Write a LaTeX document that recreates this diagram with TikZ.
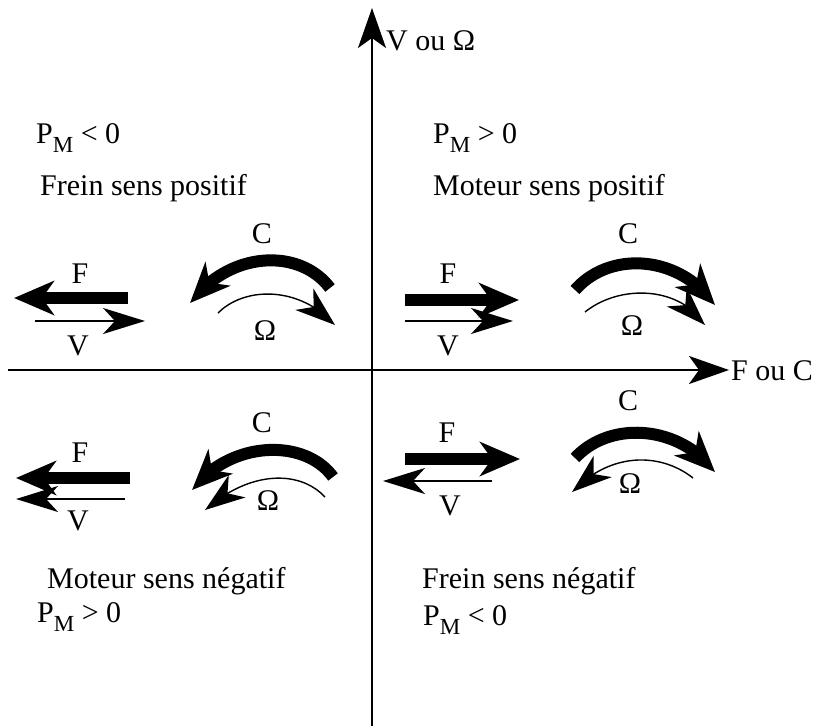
\documentclass[tikz,border=0pt]{standalone}
\usepackage{fontspec}
\setmainfont{Liberation Serif}
\usetikzlibrary{arrows.meta,bending}
\newcommand{\PMsub}{P\raisebox{-0.3em}{\fontsize{23}{23}\selectfont M}}
\begin{document}
\begin{tikzpicture}[x=1pt,y=-1pt,
  thickarr/.style={line width=12pt,-{Stealth[length=40pt,width=34pt,inset=12pt,flex]}},
  thinarr/.style={line width=2pt,-{Stealth[length=42pt,width=26pt,inset=12pt,flex]}},
  omarr/.style={line width=1.4pt,-{Stealth[length=40pt,width=28pt,inset=12pt,flex]}},
  axisarr/.style={line width=2pt,-{Stealth[length=40pt,width=28pt,inset=10pt]}},
  lbl/.style={font=\fontsize{30}{36}\selectfont,inner sep=0pt,anchor=base},
  txt/.style={lbl,anchor=base west}]
\useasboundingbox (0,0) rectangle (819,726);
% axes
\coordinate (vb) at (372,726);
\coordinate (vt) at (372,8);
\coordinate (hl) at (8,370);
\coordinate (hr) at (729,370);
\draw[axisarr] (vb) -- (vt);
\draw[axisarr] (hl) -- (hr);
\node[txt] (vlab) at (386,50) {V ou Ω};
\node[txt] (hlab) at (731,380) {F ou C};
% quadrant texts
\node[txt] (pm1) at (36,143) {\PMsub{} < 0};
\node[txt] (q2) at (40,195) {Frein sens positif};
\node[txt] (pm2) at (433,143) {\PMsub{} > 0};
\node[txt] (q1) at (433,195) {Moteur sens positif};
\node[txt] (q3) at (47,588) {Moteur sens négatif};
\node[txt] (pm3) at (37,622) {\PMsub{} > 0};
\node[txt] (q4) at (422,588) {Frein sens négatif};
\node[txt] (pm4) at (423,625) {\PMsub{} < 0};
% upper left
\node[lbl] (f2) at (80,283) {F};
\node[lbl] (v2) at (78,355) {V};
\node[lbl] (c2) at (262,243) {C};
\node[lbl] (o2) at (265,340) {Ω};
\draw[thickarr] (128,298) -- (14,298);
\draw[thinarr] (35,321) -- (145,321);
\draw[thickarr] (330,288) .. controls (300,248) and (230,250) .. (190,303);
\draw[omarr] (218,313) .. controls (245,286) and (300,286) .. (335,325);
% upper right
\node[lbl] (f1) at (448,283) {F};
\node[lbl] (v1) at (448,355) {V};
\node[lbl] (c1) at (628,243) {C};
\node[lbl] (o1) at (632,335) {Ω};
\draw[thickarr] (405,300) -- (519,300);
\draw[thinarr] (405,321) -- (513,321);
\draw[thickarr] (575,290) .. controls (610,250) and (680,255) .. (715,305);
\draw[omarr] (585,312) .. controls (620,284) and (680,286) .. (705,325);
% lower left
\node[lbl] (f3) at (80,462) {F};
\node[lbl] (v3) at (78,530) {V};
\node[lbl] (c3) at (262,432) {C};
\node[lbl] (o3) at (268,510) {Ω};
\draw[thickarr] (130,478) -- (16,478);
\draw[thinarr] (125,499) -- (16,499);
\draw[thickarr] (333,477) .. controls (305,438) and (230,440) .. (192,490);
\draw[omarr] (325,497) .. controls (300,470) and (250,470) .. (205,510);
% lower right
\node[lbl] (f4) at (447,442) {F};
\node[lbl] (v4) at (450,515) {V};
\node[lbl] (c4) at (628,410) {C};
\node[lbl] (o4) at (630,493) {Ω};
\draw[thickarr] (405,459) -- (520,459);
\draw[thinarr] (492,481) -- (383,481);
\draw[thickarr] (575,458) .. controls (610,420) and (680,425) .. (715,472);
\draw[omarr] (693,478) .. controls (660,452) and (610,452) .. (572,492);
\end{tikzpicture}
\end{document}
